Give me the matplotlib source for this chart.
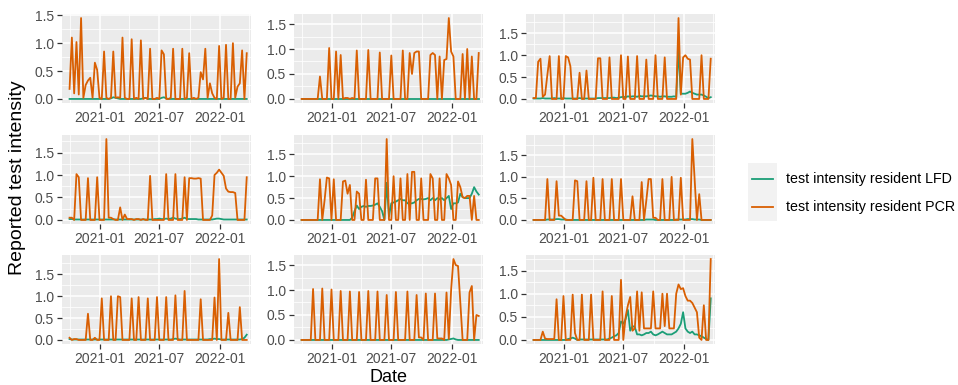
import matplotlib
matplotlib.use("Agg")
import matplotlib.pyplot as plt
import matplotlib.dates as mdates
from matplotlib.ticker import FormatStrFormatter
from matplotlib.lines import Line2D
from matplotlib.patches import Rectangle
import pandas as pd

plt.rcParams['font.family'] = ['Liberation Sans', 'DejaVu Sans']

# weekly reporting dates
dates = pd.date_range("2020-10-01", periods=78, freq="7D")

series_names = ["test intensity resident LFD", "test intensity resident PCR"]
series_colors = ["#1B9E77", "#D95F02"]

x_breaks = pd.to_datetime(["2021-01-01", "2021-07-01", "2022-01-01"])
x_minor = pd.to_datetime(["2020-10-01", "2021-04-01", "2021-10-01", "2022-04-01"])
y_breaks = [0.0, 0.5, 1.0, 1.5]
y_minor = [0.25, 0.75, 1.25, 1.75]

# ---- panel 1 ----
lfd_1 = [0, 0, 0, 0, 0, 0, 0, 0, 0, 0, 0, 0, 0,
         0, 0, 0, 0, 0, 0.01, 0.03, 0.02, 0.01, 0, 0, 0, 0,
         0, 0, 0, 0, 0, 0, 0.01, 0.02, 0, 0, 0, 0, 0,
         0, 0.02, 0.03, 0.01, 0, 0, 0, 0, 0, 0, 0, 0, 0,
         0, 0, 0, 0, 0, 0, 0, 0, 0, 0, 0, 0, 0,
         0, 0, 0, 0, 0, 0, 0, 0, 0, 0, 0, 0, 0]
pcr_1 = [0.18, 1.10, 0.10, 1.02, 0.08, 1.45, 0.02, 0.25, 0.33, 0.38, 0.02, 0.65, 0.52,
         0.02, 0.00, 0.85, 0.02, 0.00, 0.02, 0.85, 0.02, 0.03, 0.02, 1.10, 0.02, 0.00,
         0.00, 1.07, 0.00, 0.02, 0.00, 1.05, 0.00, 0.02, 0.00, 0.90, 0.00, 0.00, 0.02,
         0.00, 0.87, 0.80, 0.00, 0.00, 0.02, 0.90, 0.00, 0.00, 0.00, 0.90, 0.00, 0.02,
         0.82, 0.00, 0.02, 0.00, 0.02, 0.48, 0.35, 0.90, 0.02, 0.28, 0.10, 0.02, 0.00,
         0.95, 0.00, 0.02, 0.97, 0.00, 0.00, 1.00, 0.02, 0.22, 0.28, 0.87, 0.00, 0.82]

# ---- panel 2 ----
lfd_2 = [0, 0, 0, 0, 0, 0, 0, 0, 0, 0, 0, 0, 0,
         0, 0, 0, 0, 0, 0, 0, 0, 0, 0, 0, 0, 0,
         0, 0, 0, 0, 0, 0, 0, 0, 0, 0, 0, 0, 0,
         0, 0, 0, 0, 0, 0, 0, 0, 0, 0, 0, 0, 0,
         0, 0, 0, 0, 0, 0, 0, 0, 0, 0, 0, 0, 0,
         0, 0, 0, 0, 0, 0, 0, 0, 0, 0, 0, 0, 0]
pcr_2 = [0, 0, 0, 0, 0, 0, 0, 0, 0.45, 0, 0, 0, 1.02,
         0, 0, 0.95, 0, 0.88, 0, 0.02, 0.02, 0, 0.02, 0, 0.97, 0,
         0, 0, 0, 0.98, 0, 0, 0, 0, 0.93, 0, 0, 0, 0,
         0.87, 0, 0, 0, 0, 0.97, 0, 0, 0.92, 0.50, 0.92, 0.95, 0.95,
         0, 0, 0, 0, 0.88, 0.92, 0.88, 0, 0.85, 0, 0.78, 0.80, 1.62,
         0.95, 0.85, 0, 0, 0, 0.90, 0, 1.00, 0, 0.85, 0, 0, 0.92]

# ---- panel 3 ----
lfd_3 = [0.01, 0.01, 0.01, 0.01, 0.02, 0.01, 0.01, 0.01, 0.01, 0.02, 0.01, 0.01, 0.01,
         0.02, 0.01, 0.01, 0.01, 0.01, 0.01, 0.01, 0.02, 0.01, 0.01, 0.01, 0.01, 0.01,
         0.01, 0.01, 0.02, 0.02, 0.02, 0.02, 0.02, 0.02, 0.03, 0.03, 0.02, 0.03, 0.04,
         0.05, 0.04, 0.06, 0.05, 0.06, 0.06, 0.05, 0.07, 0.06, 0.06, 0.06, 0.07, 0.08,
         0.07, 0.06, 0.06, 0.05, 0.06, 0.06, 0.05, 0.05, 0.05, 0.06, 0.05, 1.15, 0.12,
         0.12, 0.12, 0.14, 0.17, 0.14, 0.12, 0.10, 0.10, 0.10, 0.08, 0.05, 0.02, 0.04]
pcr_3 = [0.02, 0.02, 0.85, 0.92, 0.05, 0.10, 0.55, 0.98, 0, 0, 0, 0.98, 0,
         0, 0.98, 0.95, 0.75, 0, 0, 0, 0.60, 0, 0, 0.65, 0, 0,
         0, 0, 0.93, 0.93, 0, 0, 0, 0.95, 0, 0, 0, 0, 1.00,
         0, 0, 0.97, 0, 0, 0, 0.98, 0, 0, 0, 0.90, 0, 0,
         0, 1.00, 0, 0, 0, 0.95, 0, 0, 0, 0, 0, 1.85, 0.10,
         0.95, 1.00, 0.92, 0.90, 0, 0, 0, 0, 1.00, 0, 0, 0, 0.92]

# ---- panel 4 ----
lfd_4 = [0.02, 0.02, 0.01, 0.01, 0.01, 0.01, 0.01, 0.01, 0.01, 0.01, 0.01, 0.01, 0.01,
         0.01, 0.01, 0.01, 0.01, 0.01, 0.01, 0.01, 0.01, 0.01, 0.01, 0.01, 0.01, 0.01,
         0.01, 0.01, 0.01, 0.01, 0.01, 0.01, 0.01, 0.01, 0.01, 0.01, 0.01, 0.02, 0.02,
         0.03, 0.02, 0.02, 0.03, 0.02, 0.03, 0.05, 0.03, 0.02, 0.02, 0.03, 0.05, 0.02,
         0.02, 0.02, 0.02, 0.02, 0.01, 0.01, 0.01, 0.01, 0.01, 0.01, 0.01, 0.02, 0.03,
         0.03, 0.02, 0.01, 0.01, 0.01, 0.01, 0.01, 0.01, 0.01, 0.01, 0.01, 0.01, 0.01]
pcr_4 = [0.05, 0.05, 0, 1.02, 0.95, 0, 0, 0, 0.93, 0, 0, 0, 0.95,
         0, 0, 0, 1.80, 0.05, 0.05, 0.02, 0, 0, 0.28, 0, 0.12, 0.02,
         0.02, 0.02, 0, 0.02, 0.02, 0, 0.02, 0, 0, 0.98, 0, 0, 0,
         0, 0, 0, 1.02, 0, 0, 0, 1.02, 0, 0, 0, 0.95, 0,
         0.93, 0.93, 0.92, 0.92, 0.93, 0.92, 0, 0, 0, 0, 0.10, 1.00, 1.05,
         1.12, 1.05, 0.98, 0.70, 0.63, 0.62, 0.62, 0.60, 0, 0, 0, 0, 0.95]

# ---- panel 5 ----
lfd_5 = [0, 0, 0, 0, 0, 0, 0, 0, 0, 0, 0, 0, 0,
         0, 0, 0, 0, 0, 0, 0, 0, 0, 0.05, 0.20, 0.33, 0.25,
         0.30, 0.32, 0.30, 0.32, 0.32, 0.33, 0.35, 0.38, 0.30, 0.20, 0.00, 0.85, 0.08,
         0.38, 0.40, 0.42, 0.45, 0.48, 0.45, 0.45, 0.38, 0.38, 0.38, 0.40, 0.45, 0.48,
         0.48, 0.47, 0.48, 0.50, 0.45, 0.50, 0.45, 0.50, 0.47, 0.50, 0.45, 0.50, 0.55,
         0.25, 0.38, 0.38, 0.40, 0.60, 0.52, 0.50, 0.50, 0.50, 0.60, 0.75, 0.65, 0.58]
pcr_5 = [0, 0, 0, 0, 0, 0, 0, 0, 0.93, 0, 0.45, 0.97, 0.95,
         0, 0.93, 0, 0, 0, 0.88, 0.90, 0.60, 0.80, 0, 0, 0.65, 0.60,
         0, 0, 0.92, 0, 0, 0, 0.95, 0.95, 0, 0, 0, 1.85, 0,
         0, 1.00, 0, 0, 0.95, 0, 0, 1.05, 0, 1.10, 1.10, 0, 0,
         0.95, 0, 0, 0, 1.05, 0.95, 0, 0, 0.95, 0, 0, 1.05, 0.95,
         0.80, 0, 0, 0.88, 0.75, 0.52, 0.50, 0.55, 0.55, 0, 0.55, 0, 0]

# ---- panel 6 ----
lfd_6 = [0, 0, 0, 0, 0, 0, 0.01, 0.01, 0.01, 0.01, 0.02, 0.02, 0.01,
         0.01, 0.01, 0, 0, 0, 0, 0, 0, 0, 0, 0, 0, 0,
         0, 0, 0, 0, 0, 0, 0, 0, 0, 0, 0, 0, 0,
         0, 0, 0, 0, 0, 0, 0, 0, 0, 0, 0.01, 0.01, 0.01,
         0.01, 0, 0, 0, 0, 0, 0, 0, 0, 0, 0.01, 0.01, 0.01,
         0.01, 0.01, 0.02, 0.02, 0.02, 0.01, 0.01, 0.01, 0, 0, 0, 0, 0]
pcr_6 = [0, 0, 0, 0, 0, 0, 0.95, 0, 0, 0, 0.90, 0.10, 0.10,
         0.05, 0, 0, 0, 0, 0.92, 0.90, 0, 0, 0, 0.90, 0, 0,
         0.98, 0, 0, 0, 0.95, 0, 0, 0, 0.95, 0, 0, 0, 0.95,
         0, 0, 0, 0, 0.55, 0, 0, 0, 0.88, 0, 0.45, 0.95, 0.95,
         0.05, 0.05, 0, 0, 0.95, 0, 0, 0, 1.00, 0, 0, 0, 0.98,
         0, 0, 0, 0, 1.88, 0.95, 0, 0.60, 0, 0, 0, 0, 0]

# ---- panel 7 ----
lfd_7 = [0.02, 0.01, 0.01, 0.01, 0.01, 0.01, 0.01, 0.01, 0.01, 0.01, 0.01, 0.01, 0.01,
         0.01, 0.01, 0.01, 0.01, 0.01, 0.01, 0.01, 0.01, 0.01, 0.01, 0.01, 0.01, 0.01,
         0.01, 0.01, 0.01, 0.01, 0.01, 0.01, 0.01, 0.01, 0.01, 0.01, 0.01, 0.01, 0.01,
         0.01, 0.01, 0.01, 0.01, 0.01, 0.01, 0.02, 0.03, 0.02, 0.01, 0.01, 0.01, 0.01,
         0.01, 0.01, 0.01, 0.01, 0.01, 0.01, 0.01, 0.01, 0.01, 0.02, 0.02, 0.03, 0.02,
         0.02, 0.01, 0.01, 0.01, 0.01, 0.01, 0.01, 0.01, 0.01, 0.01, 0.02, 0.05, 0.12]
pcr_7 = [0.05, 0, 0.02, 0.02, 0, 0, 0, 0, 0.60, 0, 0, 0.05, 0,
         0, 0.95, 0, 0, 0, 1.00, 0, 0, 1.00, 0.98, 0, 0, 0,
         0, 0.95, 0, 0, 0.98, 0, 0, 0, 0.95, 0, 0, 0, 0.98,
         0, 0, 0, 0.98, 0, 0, 0, 1.02, 0, 0, 0, 1.12, 0,
         0, 0, 0, 0, 0, 0.93, 0, 0, 0, 0, 0, 0.97, 0,
         1.85, 0, 0, 0, 0.62, 0, 0, 0, 0, 0.75, 0, 0, 0]

# ---- panel 8 ----
lfd_8 = [0, 0, 0, 0, 0, 0, 0, 0, 0, 0, 0, 0, 0,
         0, 0, 0, 0, 0, 0, 0, 0, 0, 0, 0, 0, 0,
         0, 0, 0, 0, 0, 0, 0, 0, 0, 0, 0, 0, 0,
         0, 0, 0, 0, 0, 0, 0, 0, 0, 0, 0, 0, 0,
         0, 0, 0, 0, 0, 0, 0, 0, 0, 0, 0, 0, 0.01,
         0.02, 0.03, 0.01, 0, 0, 0, 0, 0, 0, 0, 0, 0, 0]
pcr_8 = [0, 0, 0, 0, 0, 1.02, 0, 0, 0, 1.03, 0, 0, 0,
         1.01, 0, 0, 0, 0.98, 0, 0, 0, 0.97, 0, 0, 0, 0.96,
         0, 0, 0, 0.98, 0, 0, 0, 0.97, 0, 0, 0, 0.90, 0,
         0, 0, 0.96, 0, 0, 0, 0, 0.97, 0, 0, 0, 0.90, 0.05,
         0.05, 0, 0.93, 0, 0, 0, 0.93, 0.03, 0.03, 0.03, 0, 0.95, 0.02,
         1.00, 1.62, 1.50, 1.48, 0.75, 0, 0, 0, 0.95, 1.08, 0, 0.50, 0.48]

# ---- panel 9 ----
lfd_9 = [0, 0, 0, 0, 0, 0, 0, 0, 0, 0, 0, 0, 0,
         0, 0, 0.02, 0.03, 0.05, 0.03, 0, 0.01, 0.01, 0.01, 0.01, 0.01, 0.01,
         0.01, 0.01, 0.01, 0.01, 0.01, 0.01, 0.01, 0.03, 0.05, 0.08, 0.10, 0.15, 0.40,
         0.35, 0.45, 0.65, 0.20, 0.30, 0.28, 0.12, 0.12, 0.10, 0.12, 0.15, 0.15, 0.18,
         0.12, 0.10, 0.12, 0.15, 0.18, 0.15, 0.12, 0.12, 0.12, 0.15, 0.18, 0.25, 0.35,
         0.60, 0.25, 0.18, 0.15, 0.18, 0.12, 0.12, 0.10, 0.08, 0.05, 0.02, 0.00, 0.90]
pcr_9 = [0, 0, 0, 0, 0.18, 0.03, 0.02, 0.02, 0.02, 0.02, 0.88, 0, 0,
         0.95, 0, 0, 0, 0.98, 0.15, 0, 0, 0.98, 0, 0, 0, 0.98,
         0, 0, 0, 0, 1.05, 0, 0, 0, 0.95, 0, 0, 0, 1.30,
         0, 0.50, 0.75, 0.93, 0.20, 0.25, 1.05, 0.20, 1.03, 0.25, 0.25, 0.25, 0.25,
         1.05, 0.25, 0.25, 0.25, 1.00, 0.30, 1.00, 0.25, 0.25, 0.25, 1.00, 1.20, 1.10,
         1.12, 0.95, 0.85, 0.85, 0.80, 0.70, 0.60, 0.05, 0, 0.75, 0, 0, 1.75]

panels = [(lfd_1, pcr_1), (lfd_2, pcr_2), (lfd_3, pcr_3),
          (lfd_4, pcr_4), (lfd_5, pcr_5), (lfd_6, pcr_6),
          (lfd_7, pcr_7), (lfd_8, pcr_8), (lfd_9, pcr_9)]

W, H = 958, 385
fig = plt.figure(figsize=(W / 100, H / 100), dpi=100)
fig.patch.set_facecolor("white")

panel_w, panel_h = 189, 89
col_left = [62, 294, 526]
row_top = [14, 135, 255]
line_w = 1.3

for k, (lfd, pcr) in enumerate(panels):
    r, c = divmod(k, 3)
    ax = fig.add_axes([col_left[c] / W, 1 - (row_top[r] + panel_h) / H,
                       panel_w / W, panel_h / H])
    ax.set_facecolor("#EBEBEB")
    for s in ax.spines.values():
        s.set_visible(False)

    ax.plot(dates, lfd, color=series_colors[0], lw=line_w)
    ax.plot(dates, pcr, color=series_colors[1], lw=line_w)

    ax.set_xticks(x_breaks)
    ax.set_xticks(x_minor, minor=True)
    ax.xaxis.set_major_formatter(mdates.DateFormatter("%Y-%m"))
    ax.set_yticks(y_breaks)
    ax.set_yticks(y_minor, minor=True)
    ax.yaxis.set_major_formatter(FormatStrFormatter("%.1f"))

    lo = min(min(lfd), min(pcr))
    hi = max(max(lfd), max(pcr))
    span = hi - lo
    ax.set_ylim(lo - 0.05 * span, hi + 0.05 * span)
    ax.set_xlim(dates[0] - pd.Timedelta(days=23), dates[-1] + pd.Timedelta(days=13))

    ax.set_axisbelow(True)
    ax.grid(which="major", color="white", lw=1.1)
    ax.grid(which="minor", color="white", lw=0.55)
    ax.tick_params(which="major", length=3.5, width=0.9, color="#333333",
                   labelsize=10, labelcolor="#4D4D4D", pad=2.5)
    ax.tick_params(which="minor", length=0)

# axis titles
fig.text(18 / W, 1 - 178 / H, "Reported test intensity", rotation=90,
         ha="center", va="center", fontsize=14)
fig.text(388.5 / W, 1 - 377 / H, "Date", ha="center", va="center", fontsize=13)

# legend
fig.patches.append(Rectangle((748 / W, 1 - 221 / H), 29 / W, 58 / H,
                             transform=fig.transFigure, facecolor="#F2F2F2",
                             edgecolor="none"))
for name, color, yc in zip(series_names, series_colors, [178.5, 207]):
    fig.lines.append(Line2D([752 / W, 773 / W], [1 - yc / H, 1 - yc / H],
                            transform=fig.transFigure, color=color, lw=line_w))
    fig.text(786 / W, 1 - yc / H, name, ha="left", va="center", fontsize=10.3)

fig.savefig("out.png", dpi=100)
